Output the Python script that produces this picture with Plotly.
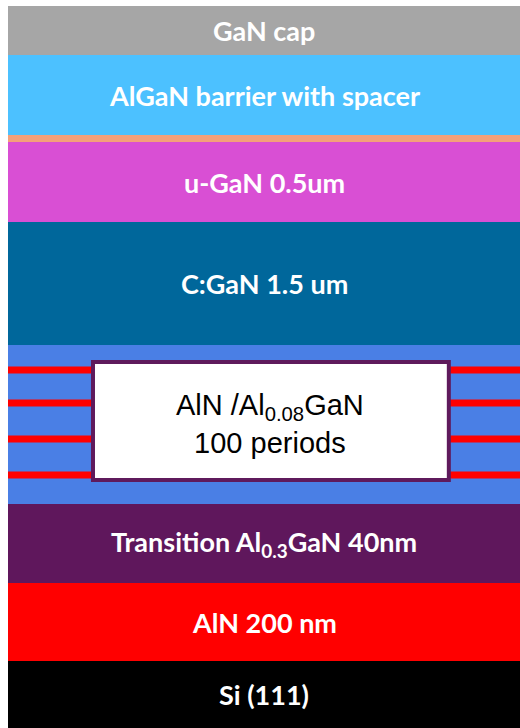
import plotly.graph_objects as go

# Layers from bottom (substrate) to top, visual thickness in drawing units
layers = ["Si (111)", "AlN 200 nm", "Transition Al<sub>0.3</sub>GaN 40nm", "superlattice",
          "C:GaN 1.5 um", "u-GaN 0.5um", "spacer", "AlGaN barrier with spacer", "GaN cap"]
thickness = [67, 78, 79, 159, 123, 80, 7, 80, 49]
colors = ["#000000", "#FF0000", "#5F175C", "#4A7FE5", "#00679B", "#D94FD4",
          "#F4A07A", "#4CC1FF", "#A6A6A6"]
show_label = [True, True, True, False, True, True, False, True, True]

# Red AlN interlayers within the superlattice (offset from SL bottom)
sl_lines = [29, 65, 101, 134]
sl_box_text = "AlN /Al<sub>0.08</sub>GaN<br>100 periods"

fig = go.Figure()
base = 0
bottoms = []
for name, t, c in zip(layers, thickness, colors):
    bottoms.append(base)
    fig.add_trace(go.Bar(x=[0.5], y=[t], base=[base], width=[1.0], marker_color=c,
                         marker_line_width=0, showlegend=False, hoverinfo="skip"))
    base += t

sl_idx = layers.index("superlattice")
sl_bottom = bottoms[sl_idx]
for off in sl_lines:
    fig.add_trace(go.Scatter(x=[0, 1], y=[sl_bottom + off] * 2, mode="lines",
                             line=dict(color="#FF0000", width=7), showlegend=False,
                             hoverinfo="skip"))

# White box over the superlattice
fig.add_shape(type="rect", xref="x", yref="y", x0=0.166, x1=0.861,
              y0=sl_bottom + 24, y1=sl_bottom + 142,
              fillcolor="white", line=dict(color="#5F1A5C", width=4), layer="above")

for name, t, b, s in zip(layers, thickness, bottoms, show_label):
    if s:
        fig.add_annotation(x=0.5, y=b + t / 2, text="<b>" + name + "</b>", showarrow=False,
                           font=dict(family="Lato", size=27, color="white"),
                           xref="x", yref="y")

fig.add_annotation(x=0.512, y=sl_bottom + 80, text=sl_box_text, showarrow=False,
                   font=dict(family="Liberation Sans, Arial", size=29, color="black"),
                   xref="x", yref="y")

fig.update_layout(
    width=520, height=728, margin=dict(l=8, r=0, t=6, b=0),
    paper_bgcolor="white", plot_bgcolor="white", barmode="overlay", bargap=0,
    xaxis=dict(range=[0, 1], visible=False, fixedrange=True),
    yaxis=dict(range=[0, sum(thickness)], visible=False, fixedrange=True),
)
fig.write_html("out.html", config={"displayModeBar": False},
               post_script="document.body.style.margin='0';")
